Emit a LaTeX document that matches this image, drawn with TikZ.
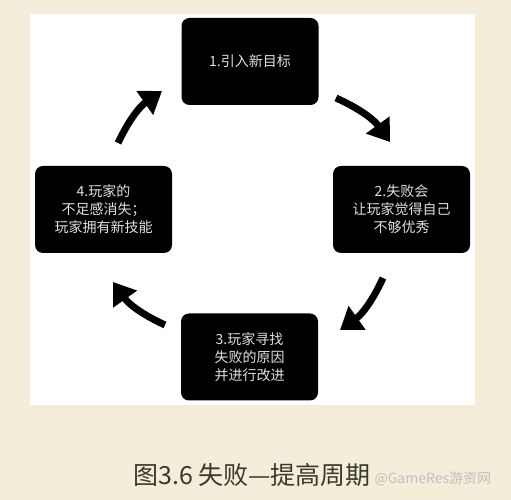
\documentclass[tikz,border=0pt]{standalone}
\usepackage{fontspec}
\newfontfamily\cjk{Noto Sans CJK SC}
\usetikzlibrary{arrows.meta}
\definecolor{paper}{HTML}{F3EDDA}
\definecolor{capgray}{HTML}{3A392E}
\tikzset{
	stage/.style={fill=black, rounded corners=8pt, minimum width=137pt, minimum height=87pt, inner sep=0pt, align=center, text=black!12, font=\cjk\fontsize{14}{18}\selectfont},
	flow/.style={line width=7pt, -{Triangle[length=21pt, width=28pt]}}
}
\begin{document}
\begin{tikzpicture}[x=1pt, y=1pt, line join=round]
	\fill[paper] (0,0) rectangle (511,500);
	\useasboundingbox (0,0) rectangle (511,500);
	\fill[white] (30,95) rectangle (475,486);
	% the four stages
	\node[stage] (goal) at (250,438.5) {1.引入新目标};
	\node[stage] (fail) at (401.5,290.5) {2.失败会\\让玩家觉得自己\\不够优秀};
	\node[stage] (seek) at (249.5,143) {3.玩家寻找\\失败的原因\\并进行改进};
	\node[stage] (gain) at (103.5,290.5) {4.玩家的\\不足感消失；\\玩家拥有新技能};
	% arrow ends
	\coordinate (s1) at (336,402); \coordinate (t1) at (390,358);
	\coordinate (s2) at (383,222); \coordinate (t2) at (340,170);
	\coordinate (s3) at (165,175); \coordinate (t3) at (113,218);
	\coordinate (s4) at (118,357); \coordinate (t4) at (162,409);
	\foreach \i in {1,2,3,4} \draw[flow] (s\i) to[bend left=15] (t\i);
	% caption
	\node[text=capgray, font=\cjk\fontsize{25}{29}\selectfont] (cap) at (252,25) {图3.6 失败—提高周期};
	\node[text=black!25, font=\cjk\fontsize{14}{16}\selectfont, anchor=west] (mark) at (371,21) {@GameRes游资网};
\end{tikzpicture}
\end{document}
